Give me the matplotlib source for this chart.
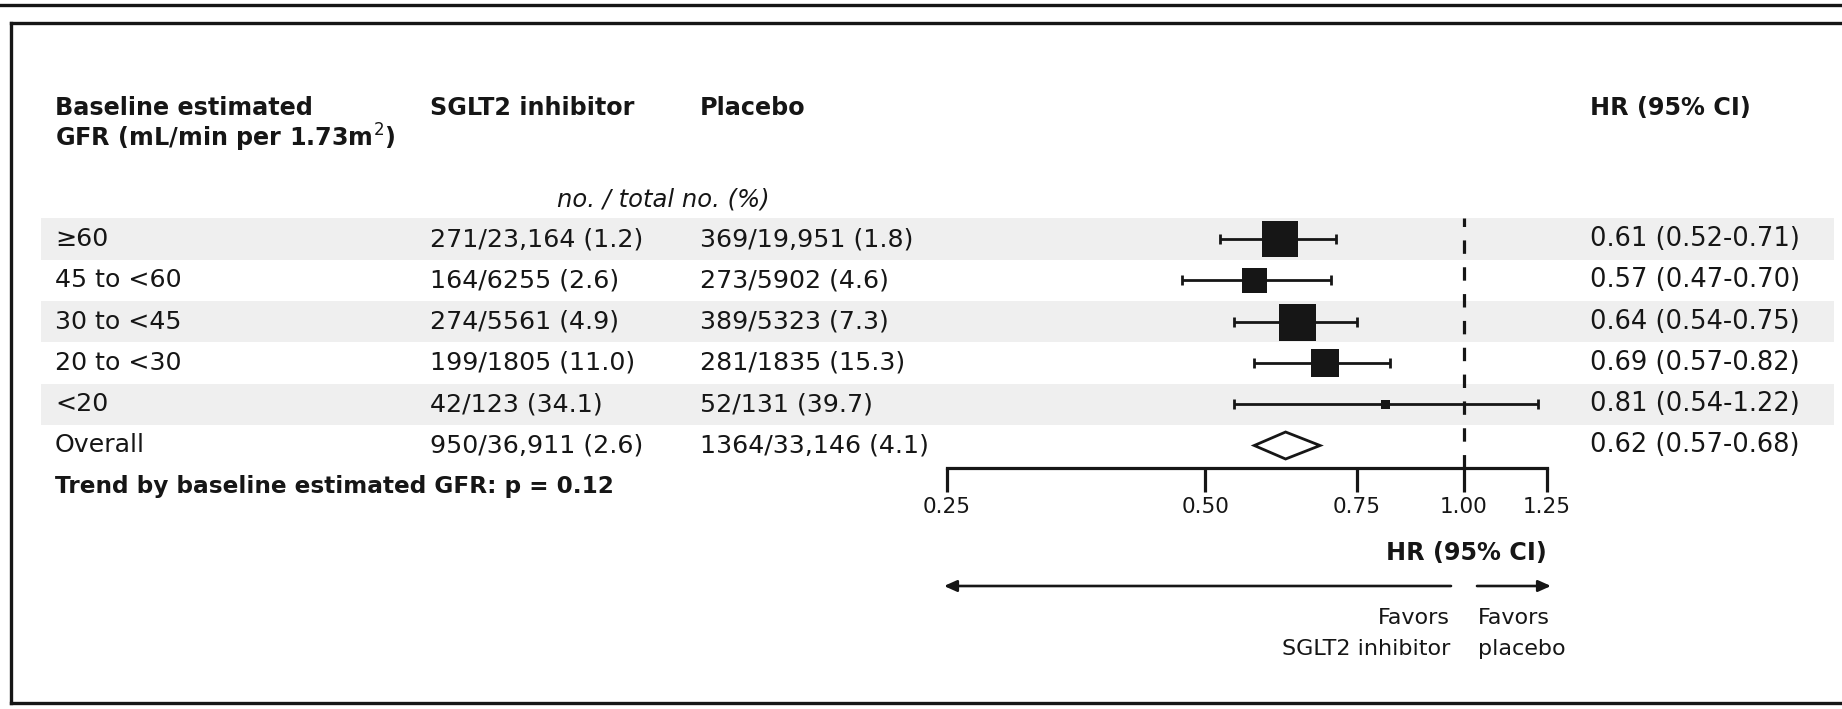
import matplotlib
matplotlib.use("Agg")
import matplotlib.pyplot as plt
from matplotlib.patches import Polygon, Rectangle
from matplotlib.ticker import NullLocator
from matplotlib.transforms import blended_transform_factory

# subgroups by baseline eGFR
groups = ["≥60", "45 to <60", "30 to <45", "20 to <30", "<20", "Overall"]
sglt2_events = [271, 164, 274, 199, 42, 950]
sglt2_total = [23164, 6255, 5561, 1805, 123, 36911]
placebo_events = [369, 273, 389, 281, 52, 1364]
placebo_total = [19951, 5902, 5323, 1835, 131, 33146]
hr = [0.61, 0.57, 0.64, 0.69, 0.81, 0.62]
ci_low = [0.52, 0.47, 0.54, 0.57, 0.54, 0.57]
ci_high = [0.71, 0.70, 0.75, 0.82, 1.22, 0.68]
xticks = [0.25, 0.50, 0.75, 1.00, 1.25]
trend_p = 0.12

# box side (px) per subgroup, i.e. weight of the estimate
box_px = [36, 25, 37, 28, 9]

ink = "#161616"
band = "#efefef"
plt.rcParams["font.family"] = ["DejaVu Sans"]
plt.rcParams["text.color"] = ink


def fmt_n(n):
    return f"{n:,}" if n >= 10000 else str(n)


def fmt_count(e, t):
    return f"{e}/{fmt_n(t)} ({100 * e / t:.1f})"


W, H = 1842, 709
fig = plt.figure(figsize=(W / 100, H / 100), dpi=100)
bg = fig.add_axes([0, 0, 1, 1])
bg.set_xlim(0, W)
bg.set_ylim(H, 0)
bg.axis("off")

# forest panel, log scale
left, right, top, bottom = 947, 1547, 218, 468
row_h, row0 = 41.3, 239
fax = fig.add_axes([left / W, 1 - bottom / H, (right - left) / W, (bottom - top) / H])
fax.set_xscale("log")
fax.set_xlim(0.25, 1.25)
fax.set_ylim((bottom - row0) / row_h, (top - row0) / row_h)
fax.patch.set_visible(False)
for s in ["top", "left", "right"]:
    fax.spines[s].set_visible(False)
fax.spines["bottom"].set_linewidth(2.3)
fax.spines["bottom"].set_color(ink)
fax.set_yticks([])
fax.set_xticks(xticks)
fax.set_xticklabels([f"{t:.2f}" for t in xticks])
fax.xaxis.set_minor_locator(NullLocator())
fax.tick_params(axis="x", direction="out", length=17, width=2.3, color=ink,
                labelsize=15.5, labelcolor=ink, pad=4)

row_tf = blended_transform_factory(bg.transData, fax.transData)

# shaded bands
for i in range(0, 5, 2):
    bg.add_patch(Rectangle((41, i - 0.5), 1834 - 41, 1.0, transform=row_tf,
                           facecolor=band, edgecolor="none", zorder=0))

# outer rules / frame
lw_frame = 2.4
bg.plot([0, W], [5, 5], color=ink, lw=lw_frame)
bg.plot([11, W], [23, 23], color=ink, lw=lw_frame, solid_capstyle="projecting")
bg.plot([11, 11], [23, 703], color=ink, lw=lw_frame, solid_capstyle="projecting")
bg.plot([11, W], [703, 703], color=ink, lw=lw_frame, solid_capstyle="projecting")

# reference line
fax.axvline(1.0, color=ink, lw=2.3, ls=(0, (4.2, 4.2)), zorder=1)

for i in range(5):
    fax.errorbar(hr[i], i, xerr=[[hr[i] - ci_low[i]], [ci_high[i] - hr[i]]],
                 fmt="none", ecolor=ink, elinewidth=2.0, capsize=3.8, capthick=2.0,
                 zorder=2)
    fax.plot(hr[i], i, marker="s", ms=box_px[i] * 0.72, color=ink, mew=0, zorder=3)

# overall diamond
dh = 13.5 / row_h
fax.add_patch(Polygon([(ci_low[5], 5), (hr[5], 5 - dh), (ci_high[5], 5), (hr[5], 5 + dh)],
                      closed=True, facecolor="white", edgecolor=ink, lw=2.0, zorder=3))

# header
hfs = 17.2
bg.text(55, 115, "Baseline estimated", fontsize=hfs, fontweight="bold", va="baseline")
bg.text(55, 147, r"GFR (mL/min per 1.73m$^2$)", fontsize=hfs, fontweight="bold", va="baseline")
bg.text(430, 115, "SGLT2 inhibitor", fontsize=hfs, fontweight="bold", va="baseline")
bg.text(700, 115, "Placebo", fontsize=hfs, fontweight="bold", va="baseline")
bg.text(1590, 115, "HR (95% CI)", fontsize=hfs, fontweight="bold", va="baseline")
bg.text(557, 206, "no. / total no. (%)", fontsize=17.5, style="italic", va="baseline")

# table rows
rfs = 18.2
for i, g in enumerate(groups):
    bg.text(55, i, g, transform=row_tf, fontsize=rfs, va="center")
    bg.text(430, i, fmt_count(sglt2_events[i], sglt2_total[i]), transform=row_tf,
            fontsize=rfs, va="center")
    bg.text(700, i, fmt_count(placebo_events[i], placebo_total[i]), transform=row_tf,
            fontsize=rfs, va="center")
    bg.text(1590, i, f"{hr[i]:.2f} ({ci_low[i]:.2f}-{ci_high[i]:.2f})", transform=row_tf,
            fontsize=18.5, va="center")

bg.text(55, 6, f"Trend by baseline estimated GFR: p = {trend_p}", transform=row_tf,
        fontsize=16.7, fontweight="bold", va="center")

# axis caption and direction arrows
bg.text(1547, 553, "HR (95% CI)", fontsize=17.2, fontweight="bold", ha="right", va="center")
arrow = dict(arrowstyle="-|>,head_length=0.38,head_width=0.17", color=ink, lw=1.9,
             shrinkA=0, shrinkB=0, mutation_scale=20)
bg.annotate("", xy=(944, 586), xytext=(1451, 586), arrowprops=arrow)
bg.annotate("", xy=(1551, 586), xytext=(1477, 586), arrowprops=arrow)
ffs = 16
bg.text(1450, 618, "Favors", fontsize=ffs, ha="right", va="center")
bg.text(1450, 649, "SGLT2 inhibitor", fontsize=ffs, ha="right", va="center")
bg.text(1478, 618, "Favors", fontsize=ffs, ha="left", va="center")
bg.text(1478, 649, "placebo", fontsize=ffs, ha="left", va="center")

fig.savefig("out.png", dpi=100)
